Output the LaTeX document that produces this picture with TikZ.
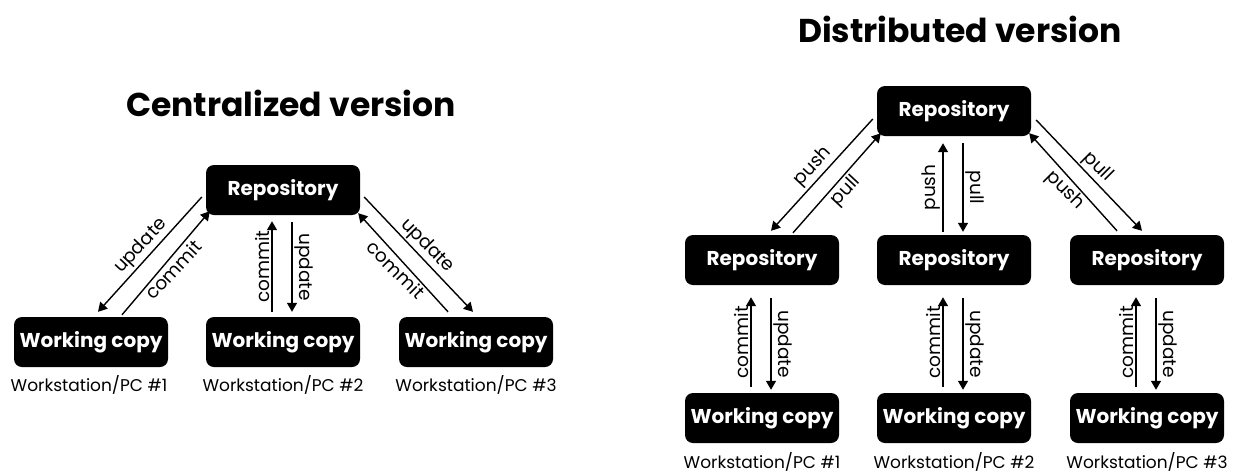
\documentclass[tikz,border=0pt]{standalone}
\usepackage{fontspec}
\setmainfont{Poppins}
\usetikzlibrary{arrows.meta}
\begin{document}
\begin{tikzpicture}[x=1pt,y=-1pt,
  box/.style={fill=black,rounded corners=8pt,minimum width=154pt,minimum height=50pt,inner sep=0pt,text=white,font=\fontsize{20}{22}\selectfont\bfseries},
  ttl/.style={font=\fontsize{33}{36}\selectfont\bfseries},
  ws/.style={font=\fontsize{17}{19}\selectfont},
  lbl/.style={font=\fontsize{18.5}{20}\selectfont,inner sep=2pt},
  arr/.style={line width=1.4pt,-{Triangle[length=9pt,width=10pt]}}]
\useasboundingbox[fill=white] (0,0) rectangle (1242,472);
% ---------- Centralized ----------
\node[ttl] (tC) at (291,103) {Centralized version};
\node[box] (rC) at (283,190) {Repository};
\node[box] (wC1) at (91,342) {Working copy};
\node[box] (wC2) at (283,342) {Working copy};
\node[box] (wC3) at (476,342) {Working copy};
\node[ws] (sC1) at (89,385) {Workstation/PC \#1};
\node[ws] (sC2) at (283,385) {Workstation/PC \#2};
\node[ws] (sC3) at (476,385) {Workstation/PC \#3};
\draw[arr] ([shift={(-4,7)}]rC.west) -- ([shift={(7,-5)}]wC1.north) node[midway,rotate=47,above,lbl]{update};
\draw[arr] ([shift={(31,-2)}]wC1.north) -- ([shift={(4,-4)}]rC.south west) node[midway,rotate=47,below,lbl]{commit};
\draw[arr] ([shift={(-11,-5)}]wC2.north) -- ([shift={(-11,6)}]rC.south) node[midway,rotate=90,above,lbl]{commit};
\draw[arr] ([shift={(9,7)}]rC.south) -- ([shift={(9,-5)}]wC2.north) node[midway,rotate=-90,above,lbl]{update};
\draw[arr] ([shift={(-28,-5)}]wC3.north) -- ([shift={(-2,-2)}]rC.south east) node[midway,rotate=-45,below,lbl]{commit};
\draw[arr] ([shift={(4,7)}]rC.east) -- ([shift={(-3,-5)}]wC3.north) node[midway,rotate=-45,above,lbl]{update};
% ---------- Distributed ----------
\node[ttl] (tD) at (960,29) {Distributed version};
\node[box] (rT) at (954,111) {Repository};
\node[box] (r1) at (762,260) {Repository};
\node[box] (r2) at (954,260) {Repository};
\node[box] (r3) at (1147,260) {Repository};
\node[box] (w1) at (762,418) {Working copy};
\node[box] (w2) at (954,418) {Working copy};
\node[box] (w3) at (1147,418) {Working copy};
\node[ws] (s1) at (762,462) {Workstation/PC \#1};
\node[ws] (s2) at (954,462) {Workstation/PC \#2};
\node[ws] (s3) at (1147,462) {Workstation/PC \#3};
\draw[arr] ([shift={(-4,8)}]rT.west) -- ([shift={(9,-4)}]r1.north) node[midway,rotate=47,above,lbl]{push};
\draw[arr] ([shift={(31,-2)}]r1.north) -- ([shift={(4,-3)}]rT.south west) node[midway,rotate=47,below,lbl]{pull};
\draw[arr] ([shift={(-11,-3)}]r2.north) -- ([shift={(-11,7)}]rT.south) node[midway,rotate=90,above,lbl]{push};
\draw[arr] ([shift={(9,7)}]rT.south) -- ([shift={(9,-3)}]r2.north) node[midway,rotate=-90,above,lbl]{pull};
\draw[arr] ([shift={(-30,-4)}]r3.north) -- ([shift={(-2,-3)}]rT.south east) node[midway,rotate=-45,below,lbl]{push};
\draw[arr] ([shift={(5,9)}]rT.east) -- ([shift={(-5,-4)}]r3.north) node[midway,rotate=-45,above,lbl]{pull};
\foreach \i in {1,2,3}{
  \draw[arr] ([shift={(-11,-6)}]w\i.north) -- ([shift={(-11,12)}]r\i.south) node[midway,rotate=90,above,lbl]{commit};
  \draw[arr] ([shift={(9,13)}]r\i.south) -- ([shift={(9,-3)}]w\i.north) node[midway,rotate=-90,above,lbl]{update};
}
\end{tikzpicture}
\end{document}
